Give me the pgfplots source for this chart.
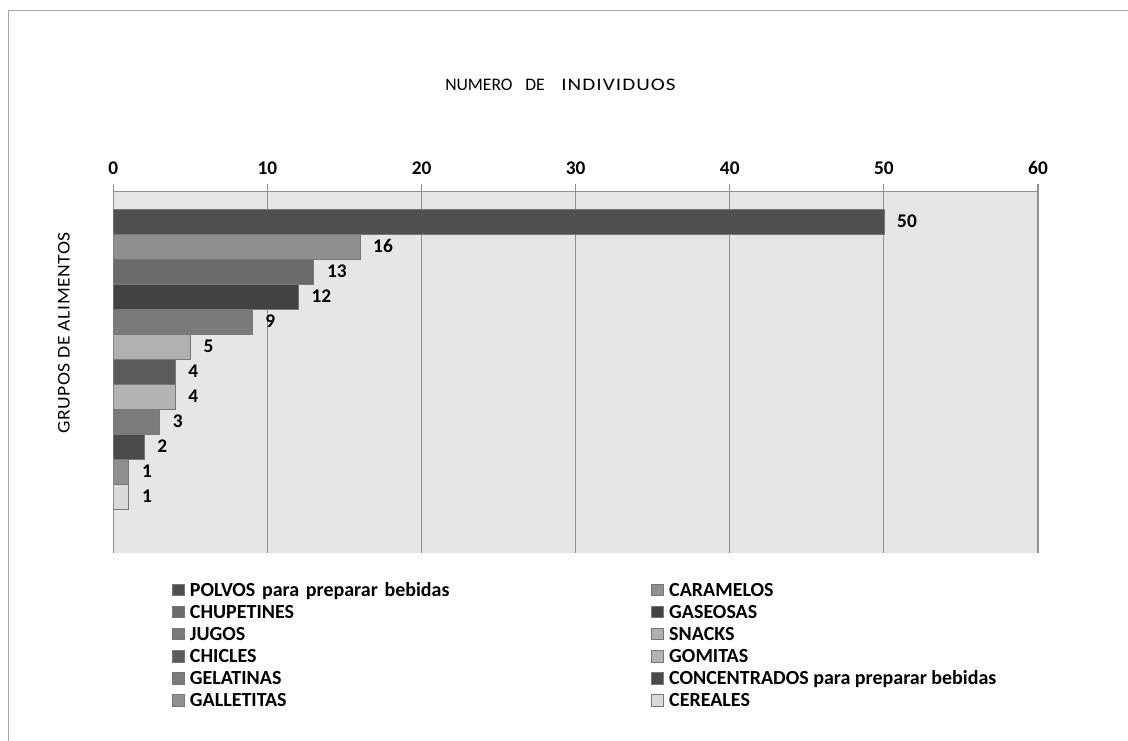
\documentclass[border=0pt]{standalone}
\usepackage{fontspec}
\setmainfont{Carlito}
\usepackage{pgfplots}
\pgfplotsset{compat=1.18}

\definecolor{plotbg}{HTML}{E6E6E6}
\definecolor{gridgray}{HTML}{8F8F8F}
\definecolor{framegray}{HTML}{A6A6A6}
\definecolor{barline}{HTML}{777777}
\definecolor{cPolvos}{HTML}{4F4F4F}
\definecolor{cCaramelos}{HTML}{8F8F8F}
\definecolor{cChupetines}{HTML}{6B6B6B}
\definecolor{cGaseosas}{HTML}{424242}
\definecolor{cJugos}{HTML}{7A7A7A}
\definecolor{cSnacks}{HTML}{B0B0B0}
\definecolor{cChicles}{HTML}{5B5B5B}
\definecolor{cGomitas}{HTML}{B3B3B3}
\definecolor{cGelatinas}{HTML}{7B7B7B}
\definecolor{cConcentrados}{HTML}{4A4A4A}
\definecolor{cGalletitas}{HTML}{8F8F8F}
\definecolor{cCereales}{HTML}{D9D9D9}

\pgfplotsset{
  onebar/.style={
    xbar, bar width=1, bar shift=0pt,
    fill=#1, draw=barline, line width=0.5pt,
    legend image code/.code={
      \path[draw=none, fill=none] (0pt,-4.3pt) rectangle (13.2pt,4.3pt);
      \draw[fill=#1, draw=barline, line width=0.5pt] (0pt,-4.3pt) rectangle (8.6pt,4.3pt);
    },
  },
}

\begin{document}
\begin{tikzpicture}
\path[use as bounding box] (0,0) rectangle (846pt,555.75pt);
\fill[white] (0,0) rectangle (846pt,555.75pt);
% chart area frame
\draw[framegray, line width=1pt] (6.5pt,0) -- (6.5pt,547.7pt) -- (846pt,547.7pt);

% titles
\node[anchor=west, inner sep=0pt, font=\fontsize{13.2}{16}\selectfont]
  at (333.75pt,492pt)
  {NUMERO\hspace{9.5pt}DE\hspace{12.5pt}{\addfontfeature{FakeStretch=1.2,LetterSpace=6}INDIVIDUOS}};
\node[rotate=90, inner sep=0pt, font=\fontsize{13.4}{16}\selectfont\addfontfeature{FakeStretch=1.1,LetterSpace=3}]
  at (48pt,306pt) {GRUPOS DE ALIMENTOS};

\begin{axis}[
  at={(85pt,141pt)}, anchor=south west,
  scale only axis, width=693.5pt, height=271pt,
  xmin=0, xmax=60, ymin=-1.26, ymax=13.192,
  axis x line*=top, axis y line*=left,
  axis line style={draw=gridgray, line width=0.8pt},
  xtick={0,10,...,60}, ytick=\empty,
  tick align=outside, major tick length=6pt,
  tick style={draw=gridgray, line width=0.8pt},
  xmajorgrids, grid style={draw=gridgray, line width=0.8pt},
  axis background/.style={fill=plotbg},
  /pgf/number format/assume math mode=true,
  xticklabel style={font=\bfseries\fontsize{14.5}{16}\selectfont, yshift=3pt},
  point meta=x,
  nodes near coords,
  every node near coord/.append style={anchor=west, inner sep=0pt, xshift=9.75pt,
    text=black, font=\bfseries\fontsize{14.5}{16}\selectfont},
  legend columns=2,
  legend cell align=left,
  legend style={at={(0.0632,-0.0703)}, anchor=north west, draw=none, fill=none,
    inner sep=0pt, row sep=0pt,
    font=\bfseries\fontsize{15}{18}\selectfont,
    nodes={inner sep=0pt, text height=13.1pt, text depth=3.5pt},
    /tikz/column 2/.style={nodes={text width=346pt, align=left}}},
]
\addplot[onebar=cPolvos] coordinates {(50,12)};
\addlegendentry{POLVOS para preparar bebidas}
\addplot[onebar=cCaramelos] coordinates {(16,11)};
\addlegendentry{CARAMELOS}
\addplot[onebar=cChupetines] coordinates {(13,10)};
\addlegendentry{CHUPETINES}
\addplot[onebar=cGaseosas] coordinates {(12,9)};
\addlegendentry{GASEOSAS}
\addplot[onebar=cJugos] coordinates {(9,8)};
\addlegendentry{JUGOS}
\addplot[onebar=cSnacks] coordinates {(5,7)};
\addlegendentry{SNACKS}
\addplot[onebar=cChicles] coordinates {(4,6)};
\addlegendentry{CHICLES}
\addplot[onebar=cGomitas] coordinates {(4,5)};
\addlegendentry{GOMITAS}
\addplot[onebar=cGelatinas] coordinates {(3,4)};
\addlegendentry{GELATINAS}
\addplot[onebar=cConcentrados] coordinates {(2,3)};
\addlegendentry{CONCENTRADOS para preparar bebidas}
\addplot[onebar=cGalletitas] coordinates {(1,2)};
\addlegendentry{GALLETITAS}
\addplot[onebar=cCereales] coordinates {(1,1)};
\addlegendentry{CEREALES}
\end{axis}
\end{tikzpicture}
\end{document}
